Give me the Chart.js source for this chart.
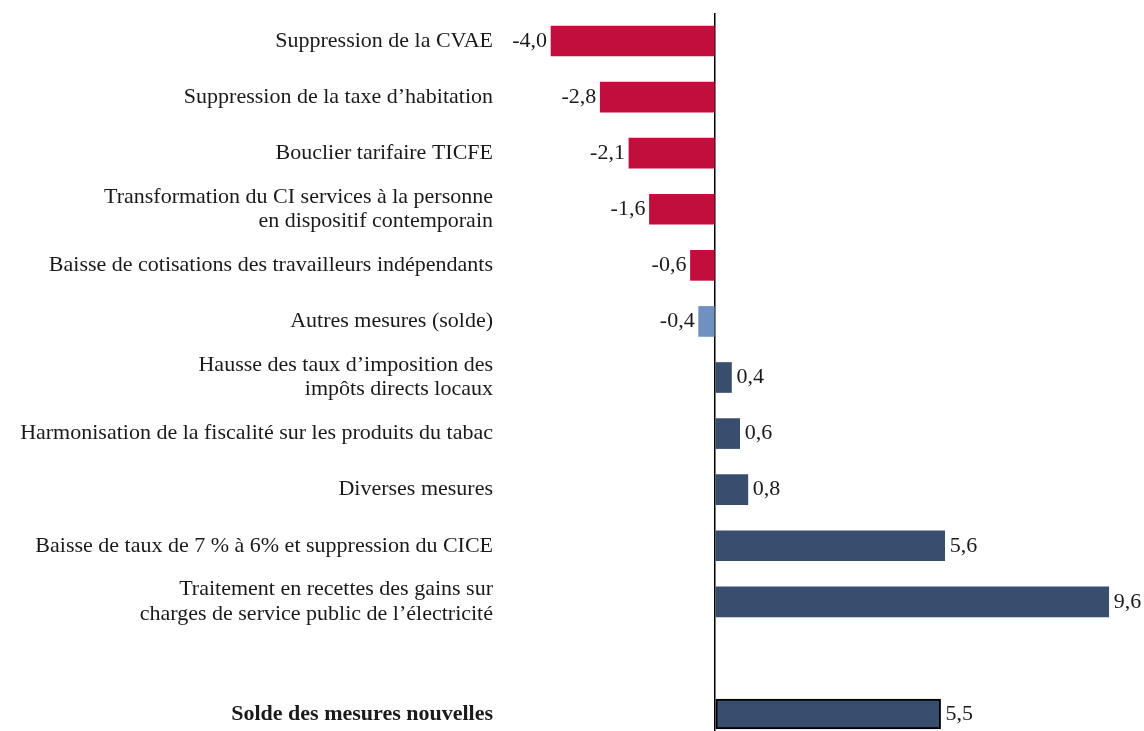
<!DOCTYPE html>
<html>
<head>
<meta charset="utf-8">
<script src="https://cdn.jsdelivr.net/npm/chart.js@4"></script>
<style>
  html, body { margin: 0; padding: 0; background: #fff; overflow: hidden; }
  #wrap { width: 1144px; height: 742px; }
</style>
</head>
<body>
<div id="wrap"><canvas id="myChart" width="1144" height="742"></canvas></div>
<script>
const labels = [
  "Suppression de la CVAE",
  "Suppression de la taxe d\u2019habitation",
  "Bouclier tarifaire TICFE",
  ["Transformation du CI services \u00e0 la personne", "en dispositif contemporain"],
  "Baisse de cotisations des travailleurs ind\u00e9pendants",
  "Autres mesures (solde)",
  ["Hausse des taux d\u2019imposition des", "imp\u00f4ts directs locaux"],
  "Harmonisation de la fiscalit\u00e9 sur les produits du tabac",
  "Diverses mesures",
  "Baisse de taux de 7 % \u00e0 6% et suppression du CICE",
  ["Traitement en recettes des gains sur", "charges de service public de l\u2019\u00e9lectricit\u00e9"],
  "",
  "Solde des mesures nouvelles"
]
const values = [-4.0, -2.8, -2.1, -1.6, -0.6, -0.4, 0.4, 0.6, 0.8, 5.6, 9.6, null, 5.5]

const red = '#C20E3D'
const lightBlue = '#7090BF'
const navy = '#394D6E'
const colors = values.map((v, i) => i == 5 ? lightBlue : (v < 0 ? red : navy))

const fontFamily = "'Liberation Serif', serif"
const fontSize = 22

// value labels at the end of each bar
const valueLabels = {
  id: 'valueLabels',
  afterDatasetsDraw(chart) {
    const ctx = chart.ctx
    const meta = chart.getDatasetMeta(0)
    ctx.save()
    ctx.font = fontSize + 'px ' + fontFamily
    ctx.fillStyle = '#1a1a1a'
    ctx.textBaseline = 'middle'
    meta.data.forEach((bar, i) => {
      const v = values[i]
      if (v === null) return
      const txt = v.toFixed(1).replace('.', ',')
      if (v < 0) {
        ctx.textAlign = 'right'
        ctx.fillText(txt, bar.x - 4, bar.y)
      } else {
        ctx.textAlign = 'left'
        ctx.fillText(txt, bar.x + 5, bar.y)
      }
    })
    ctx.restore()
  }
}

const ctx = document.getElementById('myChart')
new Chart(ctx, {
  type: 'bar',
  data: {
    labels: labels,
    datasets: [{
      data: values,
      backgroundColor: colors,
      borderColor: values.map((v, i) => i == 12 ? '#000' : 'transparent'),
      borderWidth: values.map((v, i) => i == 12 ? 2 : 0),
      borderSkipped: false,
      barThickness: 30
    }]
  },
  options: {
    indexAxis: 'y',
    responsive: false,
    animation: false,
    layout: { padding: { top: 13, right: 0, bottom: 0, left: 0 } },
    plugins: {
      legend: { display: false },
      tooltip: { enabled: false }
    },
    scales: {
      x: {
        min: -5,
        max: 10.46,
        afterFit: scale => { scale.height = 0; scale.paddingLeft = 0; scale.paddingRight = 0 },
        ticks: { display: false },
        border: { display: false },
        grid: {
          drawTicks: false,
          color: c => c.tick && c.tick.value === 0 ? '#000' : 'transparent',
          lineWidth: 1.5
        }
      },
      y: {
        afterFit: scale => { scale.width = 510; scale.paddingTop = 0; scale.paddingBottom = 0 },
        border: { display: false },
        grid: { display: false, drawTicks: false },
        ticks: {
          padding: 17,
          color: '#1a1a1a',
          font: c => ({ family: fontFamily, size: fontSize, weight: c.index === 12 ? 'bold' : 'normal', lineHeight: 1.1 })
        }
      }
    }
  },
  plugins: [valueLabels]
})
</script>
</body>
</html>
